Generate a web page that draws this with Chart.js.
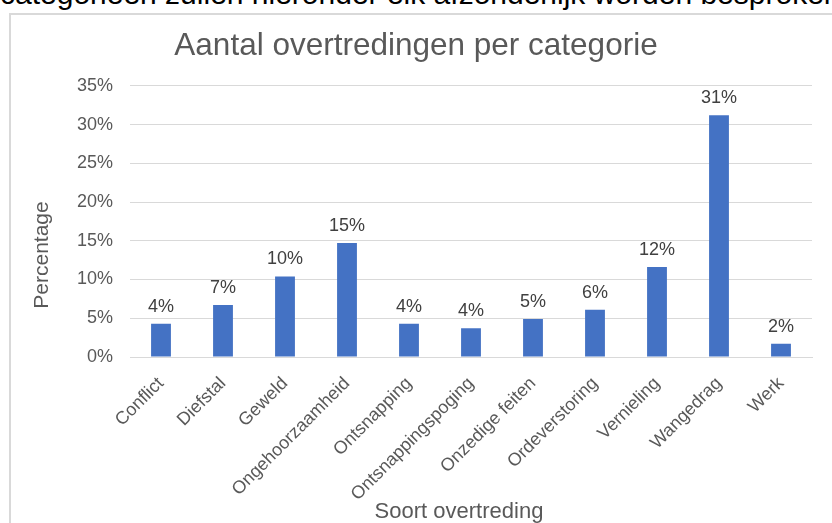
<!DOCTYPE html>
<html>
<head>
<meta charset="utf-8">
<script src="https://cdn.jsdelivr.net/npm/chart.js@4"></script>
<style>
  body { margin: 0; width: 832px; height: 523px; overflow: hidden; background: #fff; position: relative; font-family: "Liberation Sans", Arial, sans-serif; }
  #intro { position: absolute; left: 0; top: -21px; white-space: nowrap; font-size: 30px; line-height: 30px; color: #000; }
  #frame { position: absolute; left: 9px; top: 13px; width: 900px; height: 600px; border-left: 2px solid #d9d9d9; border-top: 2px solid #d9d9d9; }
  #chart { position: absolute; left: 0; top: 0; }
</style>
</head>
<body>
<div id="intro">categorieën zullen hieronder elk afzonderlijk worden besproken.</div>
<div id="frame"></div>
<canvas id="chart" width="832" height="523"></canvas>
<script>
const categories = ['Conflict', 'Diefstal', 'Geweld', 'Ongehoorzaamheid', 'Ontsnapping', 'Ontsnappingspoging',
  'Onzedige feiten', 'Ordeverstoring', 'Vernieling', 'Wangedrag', 'Werk'];
const percentages = [4.3, 6.7, 10.4, 14.7, 4.3, 3.7, 4.9, 6.1, 11.6, 31.2, 1.7];
const yTicks = [0, 5, 10, 15, 20, 25, 30, 35];

const FONT = '"Liberation Sans", Arial, sans-serif';
const GREY = '#595959';

// waarde boven elke staaf
const barLabels = {
  id: 'barLabels',
  afterDatasetsDraw(chart) {
    const ctx = chart.ctx;
    const meta = chart.getDatasetMeta(0);
    ctx.save();
    ctx.font = '18px ' + FONT;
    ctx.fillStyle = '#404040';
    ctx.textAlign = 'center';
    ctx.textBaseline = 'alphabetic';
    meta.data.forEach((bar, i) => {
      ctx.fillText(Math.round(percentages[i]) + '%', bar.x, bar.y - 12);
    });
    ctx.restore();
  }
};

// astitels (Excel zet ze niet precies in het midden van het plotgebied)
const axisTitles = {
  id: 'axisTitles',
  afterDraw(chart) {
    const ctx = chart.ctx;
    ctx.save();
    ctx.font = '21px ' + FONT;
    ctx.fillStyle = GREY;
    ctx.textAlign = 'center';
    ctx.textBaseline = 'middle';
    ctx.translate(42, 255);
    ctx.rotate(-Math.PI / 2);
    ctx.fillText('Percentage', 0, 0);
    ctx.restore();

    ctx.save();
    ctx.font = '22px ' + FONT;
    ctx.fillStyle = GREY;
    ctx.textAlign = 'center';
    ctx.textBaseline = 'middle';
    ctx.fillText('Soort overtreding', 459, 512);
    ctx.restore();
  }
};

new Chart(document.getElementById('chart').getContext('2d'), {
  type: 'bar',
  data: {
    labels: categories,
    datasets: [{
      data: percentages,
      backgroundColor: '#4472C4',
      barPercentage: 0.32,
      categoryPercentage: 1
    }]
  },
  options: {
    responsive: false,
    animation: false,
    layout: { padding: { left: 20, right: 20, top: 0, bottom: 0 } },
    plugins: {
      legend: { display: false },
      tooltip: { enabled: false },
      title: {
        display: true,
        text: 'Aantal overtredingen per categorie',
        color: GREY,
        font: { family: FONT, size: 31.5, weight: 'normal' },
        padding: { top: 27, bottom: 21 }
      }
    },
    scales: {
      x: {
        grid: { display: false, drawTicks: false },
        border: { display: true, color: '#d9d9d9', width: 1 },
        ticks: {
          color: GREY,
          font: { family: FONT, size: 18 },
          minRotation: 45,
          maxRotation: 45,
          padding: 16,
          autoSkip: false
        },
        afterFit(scale) { scale.height = 166; }
      },
      y: {
        min: 0,
        max: 35,
        afterBuildTicks(scale) { scale.ticks = yTicks.map(v => ({ value: v })); },
        grid: { color: '#d9d9d9', lineWidth: 1, drawTicks: false },
        border: { display: false },
        ticks: {
          color: GREY,
          font: { family: FONT, size: 18 },
          padding: 17,
          callback: v => v + '%'
        },
        afterFit(scale) { scale.width = 110; }
      }
    }
  },
  plugins: [barLabels, axisTitles]
});
</script>
</body>
</html>
